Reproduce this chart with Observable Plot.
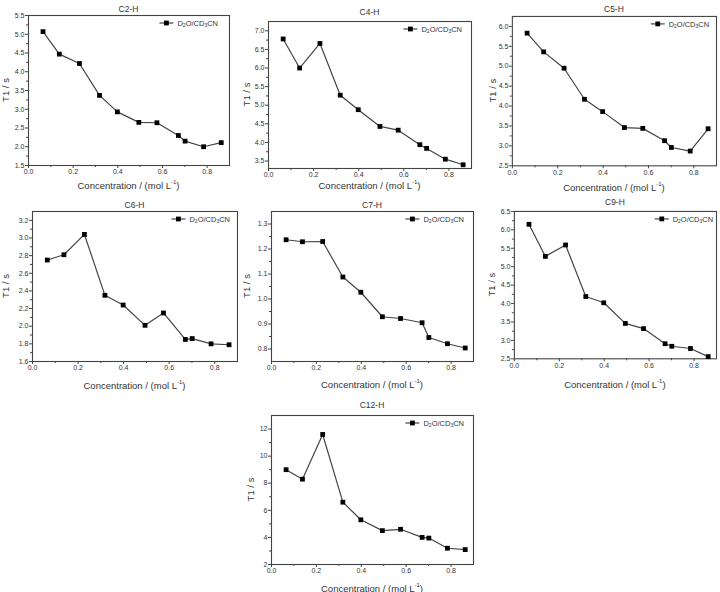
<!DOCTYPE html>
<html><head><meta charset="utf-8">
<script src="https://cdn.jsdelivr.net/npm/d3@7"></script>
<script src="https://cdn.jsdelivr.net/npm/@observablehq/plot@0.6"></script>
<style>
body{margin:0;background:#fff;}
#root{position:relative;width:720px;height:592px;overflow:hidden;background:#fff;}
.panel{position:absolute;}
</style></head><body><div id="root"></div>
<script>
// ---- data ----
const concentration = [0.065, 0.138, 0.228, 0.318, 0.398, 0.494, 0.575, 0.671, 0.701, 0.784, 0.863];
const panelTitles = ["C2-H", "C4-H", "C5-H", "C6-H", "C7-H", "C9-H", "C12-H"];
const seriesName = "D2O/CD3CN";
const t1C2 = [5.07, 4.47, 4.22, 3.37, 2.93, 2.65, 2.64, 2.30, 2.15, 2.00, 2.11];
const t1C4 = [6.78, 6.00, 6.66, 5.27, 4.88, 4.43, 4.33, 3.94, 3.84, 3.55, 3.40];
const t1C5 = [5.83, 5.36, 4.95, 4.17, 3.86, 3.46, 3.44, 3.13, 2.96, 2.87, 3.43];
const t1C6 = [2.75, 2.81, 3.04, 2.35, 2.24, 2.01, 2.15, 1.85, 1.86, 1.80, 1.79];
const t1C7 = [1.237, 1.229, 1.230, 1.088, 1.027, 0.929, 0.922, 0.905, 0.846, 0.821, 0.804];
const t1C9 = [6.15, 5.28, 5.59, 4.19, 4.02, 3.46, 3.32, 2.91, 2.84, 2.78, 2.56];
const t1C12 = [9.0, 8.3, 11.6, 6.6, 5.3, 4.5, 4.6, 4.0, 3.95, 3.2, 3.1];
const xTicks = [0.0, 0.2, 0.4, 0.6, 0.8];
const xMinorTicks = [0.1, 0.3, 0.5, 0.7];
const yTicksC2 = [1.5, 2.0, 2.5, 3.0, 3.5, 4.0, 4.5, 5.0, 5.5];
const yTicksC4 = [3.5, 4.0, 4.5, 5.0, 5.5, 6.0, 6.5, 7.0];
const yTicksC5 = [2.5, 3.0, 3.5, 4.0, 4.5, 5.0, 5.5, 6.0];
const yTicksC6 = [1.6, 1.8, 2.0, 2.2, 2.4, 2.6, 2.8, 3.0, 3.2];
const yTicksC7 = [0.8, 0.9, 1.0, 1.1, 1.2, 1.3];
const yTicksC9 = [2.5, 3.0, 3.5, 4.0, 4.5, 5.0, 5.5, 6.0, 6.5];
const yTicksC12 = [2, 4, 6, 8, 10, 12];
const yDomains = [[1.5, 5.5], [3.3, 7.25], [2.5, 6.25], [1.6, 3.3], [0.75, 1.35], [2.5, 6.5], [2, 13]];
const xDomain = [0, 0.9];

// ---- layout (frame boxes in page px) ----
const layout = [
  {L: 28, R: 229, T: 15, B: 165, titleY: 9, xlabY: 185, ylabX: 5, legR: 11},
  {L: 268, R: 471, T: 21, B: 168, titleY: 12, xlabY: 185, ylabX: 246, legR: 9},
  {L: 512, R: 717, T: 16, B: 166, titleY: 9, xlabY: 188, ylabX: 493, legR: 7},
  {L: 32, R: 237, T: 211, B: 361, titleY: 205, xlabY: 385, ylabX: 5, legR: 7},
  {L: 271, R: 473, T: 211, B: 361, titleY: 205, xlabY: 384, ylabX: 246, legR: 9},
  {L: 514, R: 717, T: 211, B: 359, titleY: 202, xlabY: 385, ylabX: 492, legR: 3},
  {L: 271, R: 473, T: 415, B: 564, titleY: 405, xlabY: 588, ylabX: 250, legR: 9}
];
const seriesList = [t1C2, t1C4, t1C5, t1C6, t1C7, t1C9, t1C12];
const yTickList = [yTicksC2, yTicksC4, yTicksC5, yTicksC6, yTicksC7, yTicksC9, yTicksC12];
const yFormats = [".1f", ".1f", ".1f", ".1f", ".1f", ".1f", "d"];

const root = document.getElementById("root");
const FONT = "Liberation Sans, Arial, sans-serif";
const mL = 34, mR = 4, mT = 16, mB = 32;

panelTitles.forEach((title, i) => {
  const lay = layout[i];
  const values = seriesList[i];
  const data = concentration.map((c, j) => ({c, t: values[j]}));
  const yt = yTickList[i];
  const yMinor = yt.slice(0, -1).map((v, k) => (v + yt[k + 1]) / 2);
  const fw = lay.R - lay.L, fh = lay.B - lay.T;
  const plot = Plot.plot({
    width: fw + mL + mR,
    height: fh + mT + mB,
    marginLeft: mL, marginRight: mR, marginTop: mT, marginBottom: mB,
    style: {fontFamily: FONT, fontSize: "7px", color: "#333", background: "transparent", overflow: "visible"},
    x: {domain: xDomain, label: null},
    y: {domain: yDomains[i], label: null},
    marks: [
      Plot.axisY({ticks: yt, tickSize: 3, tickPadding: 1, tickFormat: d3.format(yFormats[i]), label: null, stroke: "#444"}),
      Plot.axisY({ticks: yMinor, tickSize: 2, text: null, label: null, stroke: "#444"}),
      Plot.axisX({ticks: xTicks, tickSize: 3, tickPadding: 1, tickFormat: d3.format(".1f"), label: null, stroke: "#444"}),
      Plot.axisX({ticks: xMinorTicks, tickSize: 2, text: null, label: null, stroke: "#444"}),
      Plot.frame({stroke: "#444", strokeWidth: 1.1}),
      Plot.line(data, {x: "c", y: "t", stroke: "#444", strokeWidth: 1.2}),
      Plot.dot(data, {x: "c", y: "t", symbol: "square", r: 2.7, fill: "#000", stroke: "none"})
    ]
  });
  const div = document.createElement("div");
  div.className = "panel";
  div.style.left = (lay.L - mL) + "px";
  div.style.top = (lay.T - mT) + "px";
  div.appendChild(plot);
  root.appendChild(div);

  const svg = d3.select(plot);
  const fx = mL, fy = mT;
  // title
  svg.append("text").attr("x", fx + fw / 2).attr("y", lay.titleY - lay.T + fy)
    .attr("text-anchor", "middle").attr("dominant-baseline", "central")
    .attr("font-family", FONT).attr("font-size", 8.5).attr("fill", "#333").text(title);
  // x label
  const xl = svg.append("text").attr("x", fx + fw / 2).attr("y", lay.xlabY - lay.T + fy)
    .attr("text-anchor", "middle").attr("dominant-baseline", "central")
    .attr("font-family", FONT).attr("font-size", 9.5).attr("fill", "#333");
  xl.append("tspan").text("Concentration / (mol L");
  xl.append("tspan").attr("font-size", 6).attr("dy", -3.5).text("-1");
  xl.append("tspan").attr("dy", 3.5).text(")");
  // y label
  const yx = lay.ylabX - lay.L + fx, yy = fy + fh / 2;
  svg.append("text").attr("transform", `translate(${yx},${yy}) rotate(-90)`)
    .attr("text-anchor", "middle").attr("dominant-baseline", "central")
    .attr("font-family", FONT).attr("font-size", 9.5).attr("fill", "#333").text("T1 / s");
  // legend
  const ly = fy + 8;
  const textEnd = fx + fw - lay.legR;
  const lt = svg.append("text").attr("x", textEnd).attr("y", ly)
    .attr("text-anchor", "end").attr("dominant-baseline", "central")
    .attr("font-family", FONT).attr("font-size", 7.5).attr("fill", "#333");
  lt.append("tspan").text("D");
  lt.append("tspan").attr("font-size", 5).attr("dy", 2).text("2");
  lt.append("tspan").attr("dy", -2).text("O/CD");
  lt.append("tspan").attr("font-size", 5).attr("dy", 2).text("3");
  lt.append("tspan").attr("dy", -2).text("CN");
  const tw = lt.node().getComputedTextLength();
  const ts = textEnd - tw - 4;
  svg.append("line").attr("x1", ts - 14).attr("x2", ts).attr("y1", ly).attr("y2", ly)
    .attr("stroke", "#444").attr("stroke-width", 1.2);
  svg.append("rect").attr("x", ts - 7 - 2.4).attr("y", ly - 2.4).attr("width", 4.8).attr("height", 4.8).attr("fill", "#000");
});
</script>
</body></html>
